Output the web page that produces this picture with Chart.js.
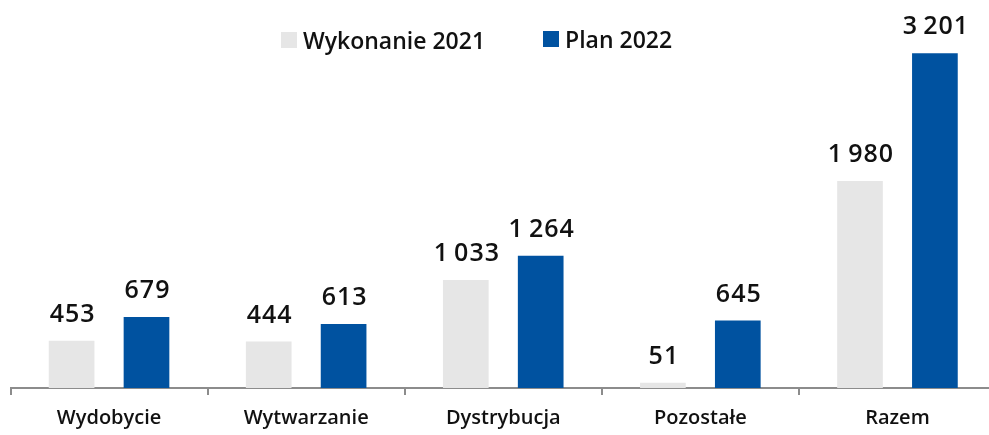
<!DOCTYPE html>
<html>
<head>
<meta charset="utf-8">
<script src="https://cdn.jsdelivr.net/npm/chart.js@4"></script>
<style>
  html, body { margin: 0; padding: 0; background: #fff; overflow: hidden; }
  #wrap { position: relative; width: 1000px; height: 435px; }
  #legend { position: absolute; top: 23px; left: 281px; font-family: "Open Sans", sans-serif; font-weight: 600; font-size: 23px; color: #111; white-space: nowrap; }
  #legend span.item { display: inline-flex; align-items: center; }
  #legend span.item + span.item { position: absolute; left: 262px; top: 0; }
  #legend i { display: inline-block; width: 16px; height: 16px; margin-right: 6px; }
</style>
</head>
<body>
<div id="wrap">
  <canvas id="chart"></canvas>
  <div id="legend"></div>
</div>
<script>
var categories = ["Wydobycie", "Wytwarzanie", "Dystrybucja", "Pozostałe", "Razem"];
var wykonanie2021 = [453, 444, 1033, 51, 1980];
var plan2022 = [679, 613, 1264, 645, 3201];
var seriesNames = ["Wykonanie 2021", "Plan 2022"];
var seriesColors = ["#e6e6e6", "#0052a0"];

// legend as html
var legendHtml = "";
for (var i = 0; i < seriesNames.length; i++) {
    legendHtml += '<span class="item"><i style="background:' + seriesColors[i] + '"></i>' + seriesNames[i] + '</span>';
}
document.getElementById("legend").innerHTML = legendHtml;

function fmt(v) {
    return String(v).replace(/\B(?=(\d{3})+(?!\d))/g, "\u2009");
}

// value labels above bars
var barLabels = {
    id: "barLabels",
    afterDatasetsDraw: function(chart) {
        var ctx = chart.ctx;
        ctx.save();
        ctx.font = "600 25px 'Open Sans'";
        ctx.letterSpacing = "1px";
        ctx.fillStyle = "#111";
        ctx.textAlign = "center";
        ctx.textBaseline = "alphabetic";
        chart.data.datasets.forEach(function(ds, di) {
            chart.getDatasetMeta(di).data.forEach(function(bar, idx) {
                ctx.fillText(fmt(ds.data[idx]), bar.x + 1, bar.y - 19);
            });
        });
        ctx.restore();
    }
};

var config = {
    type: "bar",
    data: {
        labels: categories,
        datasets: [{
            label: seriesNames[0],
            data: wykonanie2021,
            backgroundColor: seriesColors[0]
        }, {
            label: seriesNames[1],
            data: plan2022,
            backgroundColor: seriesColors[1]
        }]
    },
    options: {
        responsive: false,
        animation: false,
        categoryPercentage: 0.76,
        barPercentage: 0.61,
        layout: { padding: { left: 10.5, right: 4, top: 22, bottom: 0 } },
        plugins: {
            legend: { display: false },
            tooltip: { enabled: false }
        },
        scales: {
            y: {
                display: false,
                min: 0,
                max: 3500
            },
            x: {
                afterFit: function(scale) { scale.height = 47; },
                grid: {
                    offset: true,
                    drawOnChartArea: false,
                    drawTicks: true,
                    tickLength: 7,
                    color: "#8c8c8c",
                    lineWidth: 2
                },
                border: { display: true, color: "#8c8c8c", width: 2 },
                ticks: {
                    color: "#111",
                    padding: 11,
                    font: { family: "Open Sans", size: 20, weight: "600" }
                }
            }
        }
    },
    plugins: [barLabels]
};

var canvas = document.getElementById("chart");
canvas.width = 1000;
canvas.height = 435;
new Chart(canvas, config);
</script>
</body>
</html>
